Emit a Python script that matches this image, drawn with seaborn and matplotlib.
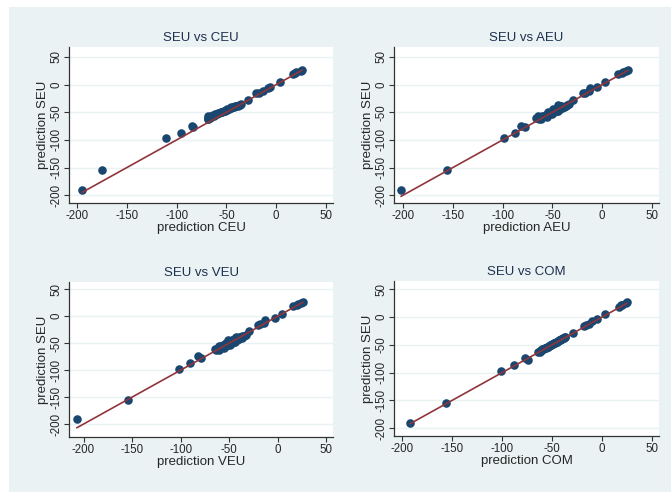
import numpy as np
import pandas as pd
import matplotlib
matplotlib.use("Agg")
from matplotlib import pyplot as plt
from matplotlib.patches import Rectangle
import seaborn as sns

# SEU predictions (shared y for all panels)
seu = [-190, -155, -97, -87, -74, -77,
       -62, -60, -59, -58, -57, -56, -55, -54, -53, -52, -51, -50, -49,
       -48, -47, -46, -45, -44, -43, -42, -41, -40, -39, -38, -37, -36, -35,
       -28, -16, -15, -12, -7, -4, 5, 19, 21, 22, 25, 27,
       -63, -61, -58, -56, -53, -50, -47, -44, -41, -38]

ceu = [-195, -175, -111, -96, -85, -84,
       -68, -68, -67, -66, -68, -65, -63, -61, -60, -58, -57, -55, -54,
       -52, -51, -50, -49, -47, -46, -45, -43, -42, -40, -38, -36, -37, -35,
       -28, -20, -17, -13, -8, -6, 4, 17, 19, 20, 25, 26,
       -68, -66, -65, -62, -59, -55, -52, -49, -45, -41]

aeu = [-202, -156, -99, -88, -82, -78,
       -63, -65, -62, -60, -64, -58, -56, -55, -52, -54, -50, -48, -51,
       -47, -45, -48, -44, -42, -45, -40, -42, -38, -41, -36, -35, -44, -33,
       -29, -19, -17, -13, -12, -5, 3, 16, 20, 21, 24, 26,
       -61, -66, -55, -60, -50, -54, -44, -49, -38, -41]

veu = [-207, -154, -102, -90, -82, -79,
       -64, -63, -58, -61, -56, -58, -53, -56, -52, -50, -54, -47, -50,
       -45, -48, -44, -47, -42, -45, -40, -43, -41, -38, -40, -35, -37, -33,
       -30, -20, -18, -14, -13, -3, 4, 16, 20, 21, 24, 26,
       -60, -65, -55, -60, -49, -53, -44, -51, -37, -43]

com = [-192, -156, -101, -88, -77, -74,
       -62, -61, -60, -60, -59, -57, -56, -55, -54, -53, -52, -51, -50,
       -49, -48, -47, -46, -45, -44, -43, -42, -41, -40, -39, -38, -37, -37,
       -29, -18, -16, -13, -10, -5, 3, 17, 19, 20, 24, 25,
       -64, -62, -59, -57, -54, -51, -48, -45, -42, -39]

panels = [("CEU", ceu), ("AEU", aeu), ("VEU", veu), ("COM", com)]
ticks = [-200, -150, -100, -50, 0, 50]

BG = "#eaf2f3"
NAVY = "#1a476f"
MAROON = "#90353b"

sns.set_style("white")
plt.rcParams["font.family"] = ["Liberation Sans", "DejaVu Sans"]
plt.rcParams["axes.unicode_minus"] = False

fig = plt.figure(figsize=(6.71, 4.92), dpi=100)
fig.patch.set_facecolor("white")
fig.patches.append(Rectangle((9 / 671, 0), 1, 485 / 492, transform=fig.transFigure,
                             facecolor=BG, edgecolor="none", zorder=-10))

W, H = 671, 492
boxes = [(69, 333, 47, 203), (394, 659, 47, 203),
         (69, 333, 282, 437), (394, 659, 281, 436)]
xlims = [(-208, 57), (-209, 57), (-215, 57), (-208, 57)]
ylims = [(-214, 68), (-214, 68), (-224, 63.5), (-214, 65)]

for (name, xs), (l, r, t, b), xl, yl in zip(panels, boxes, xlims, ylims):
    ax = fig.add_axes([l / W, (H - b) / H, (r - l) / W, (b - t) / H])
    df = pd.DataFrame({"x": xs, "y": seu})
    sns.scatterplot(data=df, x="x", y="y", ax=ax, s=38, color=NAVY,
                    linewidth=0, zorder=3)
    # 45-degree reference line over the x range
    ends = [min(xs), max(xs)]
    sns.lineplot(x=ends, y=ends, ax=ax, color=MAROON, lw=1.2, zorder=4)
    ax.set_xlim(xl)
    ax.set_ylim(yl)
    ax.set_xticks(ticks)
    ax.set_yticks(ticks)
    ax.set_facecolor("white")
    ax.grid(axis="y", color=BG, lw=1.0)
    ax.set_axisbelow(True)
    for s in ["top", "right"]:
        ax.spines[s].set_visible(False)
    for s in ["left", "bottom"]:
        ax.spines[s].set_color("#333333")
        ax.spines[s].set_linewidth(0.9)
    ax.tick_params(axis="both", direction="out", length=3.5, width=0.8,
                   color="#333333", labelsize=8.3, pad=1.5, left=True, bottom=True)
    for lab in ax.get_yticklabels():
        lab.set_rotation(90)
        lab.set_va("center")
    ax.set_xlabel("prediction " + name, fontsize=9.5, labelpad=0)
    ax.set_ylabel("prediction SEU", fontsize=9.5, labelpad=1)
    ax.set_title("SEU vs " + name, fontsize=9.5, color="#1e3050", pad=4)

fig.savefig("out.png", dpi=100, facecolor=fig.get_facecolor())
